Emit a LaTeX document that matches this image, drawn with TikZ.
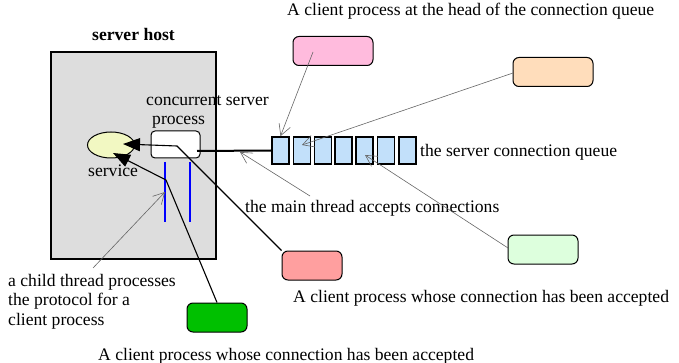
\documentclass[tikz,border=0pt]{standalone}
\usepackage{fontspec}
\setmainfont{Liberation Serif}
\usetikzlibrary{arrows.meta,shapes.geometric}
\definecolor{hostgray}{HTML}{DDDDDD}
\definecolor{svcyellow}{HTML}{F2F8C2}
\definecolor{qblue}{HTML}{C2E0FA}
\definecolor{cpink}{HTML}{FFBBDD}
\definecolor{corange}{HTML}{FFDDBB}
\definecolor{clgreen}{HTML}{DDFFDD}
\definecolor{cred}{HTML}{FF9F9F}
\definecolor{cgreen}{HTML}{00C000}
\tikzset{
  lbl/.style={font=\fontsize{17.6}{19.2}\selectfont, inner sep=0pt, anchor=base west},
  client/.style={draw, line width=1pt, rounded corners=6pt, minimum width=#1, minimum height=29pt, inner sep=0pt},
  qcell/.style={draw, line width=1.8pt, fill=qblue, minimum width=17pt, minimum height=27pt, inner sep=0pt},
  garrow/.style={draw=gray!80!black, line width=0.6pt, -{Straight Barb[length=11pt,width=12pt]}},
  barrow/.style={draw=black, line width=1.1pt, -{Triangle[length=17pt,width=13pt]}},
}
\begin{document}
\begin{tikzpicture}[x=1pt,y=-1pt]
\useasboundingbox (0,0) rectangle (679,363);
% server host
\node[draw, line width=1.5pt, fill=hostgray, minimum width=165pt, minimum height=207pt, inner sep=0pt] (host) at (133.5,155.5) {};
\node[lbl, font=\fontsize{17.6}{19.2}\selectfont\bfseries] (hostlbl) at (92,41) {server host};
% service
\node[draw, line width=1pt, ellipse, fill=svcyellow, minimum width=47pt, minimum height=26pt, inner sep=0pt] (svc) at (111,145) {};
\node[lbl] (svclbl) at (88,177) {service};
% concurrent server process
\node[draw, line width=1pt, fill=white, rounded corners=4pt, minimum width=49pt, minimum height=27pt, inner sep=0pt] (proc) at (175.5,144.5) {};
\node[lbl] (proclbl1) at (146,106) {concurrent server};
\node[lbl] (proclbl2) at (152,125) {process};
% threads
\draw[blue, line width=2.6pt] (165,162) -- (165,222);
\draw[blue, line width=2.6pt] (190,162) -- (190,222);
% queue
\node[qcell] (q1) at (280.5,150.5) {};
\node[qcell] (q2) at (302,150.5) {};
\node[qcell] (q3) at (323,150.5) {};
\node[qcell] (q4) at (343.5,150.5) {};
\node[qcell] (q5) at (364.5,150.5) {};
\node[qcell] (q6) at (386,150.5) {};
\node[qcell] (q7) at (407.5,150.5) {};
\node[lbl] (qlbl) at (420,157) {the server connection queue};
% clients
\node[client=80pt, fill=cpink] (pink) at (333,51) {};
\node[client=80pt, fill=corange] (orange) at (553,72) {};
\node[client=70pt, fill=clgreen] (lgreen) at (543,249.5) {};
\node[client=60pt, fill=cred] (red) at (312,265.5) {};
\node[client=60pt, fill=cgreen] (green) at (217,317.5) {};
% labels
\node[lbl] (headlbl) at (287,16) {A client process at the head of the connection queue};
\node[lbl] (acc1) at (293,302) {A client process whose connection has been accepted};
\node[lbl] (acc2) at (98,360) {A client process whose connection has been accepted};
\node[lbl] (mainlbl) at (245,213) {the main thread accepts connections};
\node[lbl, align=left] (childlbl) at (8,325) {a child thread processes\\the protocol for a\\client process};
% coordinates
\coordinate (c0) at (197,151);
\coordinate (j1) at (177,146);
\coordinate (j2) at (166,180);
\coordinate (t1) at (123,144);
\coordinate (t2) at (113,153);
\coordinate (p0) at (313,52);
\coordinate (o0) at (513,73);
\coordinate (m0) at (310,196);
\coordinate (m1) at (240,152);
\coordinate (g0) at (508,248);
\coordinate (qt2) at (302,145);
\coordinate (qt5) at (365,155);
\coordinate (ch0) at (93,268);
\coordinate (ch1) at (165,192);
% main connection line
\draw[line width=2pt] (c0) -- (q1.west);
% black arrows
\draw[barrow] (red.north west) -- (j1) -- (t1);
\draw[barrow] (green.north) -- (j2) -- (t2);
% gray arrows
\draw[garrow] (p0) -- (q1.north);
\draw[garrow] (o0) -- (qt2);
\draw[garrow] (m0) -- (m1);
\draw[garrow] (g0) -- (qt5);
\draw[garrow] (ch0) -- (ch1);
\end{tikzpicture}
\end{document}
